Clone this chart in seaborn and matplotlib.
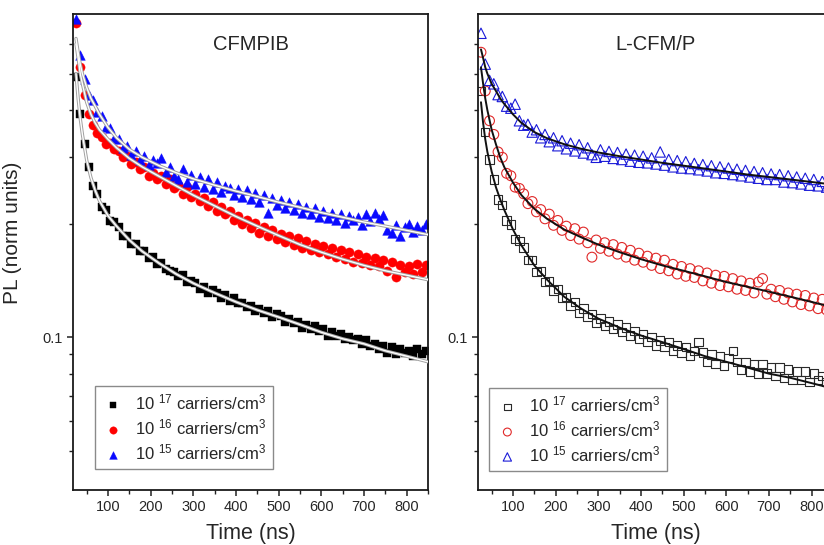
import matplotlib
matplotlib.use("Agg")
import matplotlib.pyplot as plt
import matplotlib.ticker as mticker
import seaborn as sns

# time base of the decays (ns)
time_ns = [25, 35, 45, 55, 65, 75, 85, 95, 105, 115,
           125, 135, 145, 155, 165, 175, 185, 195, 205, 215,
           225, 235, 245, 255, 265, 275, 285, 295, 305, 315,
           325, 335, 345, 355, 365, 375, 385, 395, 405, 415,
           425, 435, 445, 455, 465, 475, 485, 495, 505, 515,
           525, 535, 545, 555, 565, 575, 585, 595, 605, 615,
           625, 635, 645, 655, 665, 675, 685, 695, 705, 715,
           725, 735, 745, 755, 765, 775, 785, 795, 805, 815,
           825, 835, 845]

# CFMPIB (left panel, filled symbols)
cfmpib_1e17 = [0.49, 0.39, 0.325, 0.283, 0.251, 0.240, 0.221, 0.217, 0.203, 0.202,
               0.196, 0.186, 0.186, 0.177, 0.177, 0.169, 0.169, 0.162, 0.163, 0.156,
               0.157, 0.152, 0.150, 0.149, 0.145, 0.146, 0.140, 0.141, 0.139, 0.134,
               0.136, 0.131, 0.133, 0.131, 0.127, 0.129, 0.125, 0.127, 0.123, 0.123,
               0.120, 0.121, 0.117, 0.119, 0.116, 0.117, 0.113, 0.115, 0.114, 0.110,
               0.112, 0.109, 0.110, 0.106, 0.108, 0.105, 0.107, 0.104, 0.105, 0.101,
               0.103, 0.101, 0.102, 0.099, 0.100, 0.098, 0.099, 0.096, 0.098, 0.095,
               0.096, 0.093, 0.095, 0.091, 0.094, 0.090, 0.093, 0.091, 0.092, 0.089,
               0.093, 0.090, 0.092]
cfmpib_1e16 = [0.68, 0.52, 0.44, 0.39, 0.365, 0.348, 0.340, 0.326, 0.327, 0.315,
               0.312, 0.300, 0.302, 0.288, 0.292, 0.280, 0.282, 0.268, 0.273, 0.262,
               0.268, 0.255, 0.262, 0.248, 0.253, 0.240, 0.250, 0.236, 0.240, 0.230,
               0.234, 0.223, 0.229, 0.216, 0.222, 0.212, 0.216, 0.205, 0.209, 0.200,
               0.205, 0.195, 0.201, 0.189, 0.196, 0.186, 0.192, 0.182, 0.188, 0.179,
               0.185, 0.176, 0.183, 0.172, 0.180, 0.170, 0.177, 0.168, 0.174, 0.166,
               0.172, 0.163, 0.170, 0.161, 0.168, 0.158, 0.166, 0.157, 0.163, 0.155,
               0.162, 0.154, 0.160, 0.150, 0.158, 0.144, 0.155, 0.149, 0.154, 0.147,
               0.156, 0.149, 0.155]
cfmpib_1e15 = [0.70, 0.56, 0.485, 0.44, 0.425, 0.395, 0.385, 0.360, 0.358, 0.338,
               0.335, 0.318, 0.322, 0.305, 0.312, 0.296, 0.302, 0.286, 0.296, 0.290,
               0.298, 0.274, 0.283, 0.268, 0.262, 0.279, 0.258, 0.270, 0.255, 0.266,
               0.250, 0.262, 0.247, 0.258, 0.243, 0.252, 0.249, 0.238, 0.247, 0.236,
               0.245, 0.233, 0.241, 0.229, 0.238, 0.214, 0.234, 0.224, 0.231, 0.220,
               0.228, 0.218, 0.226, 0.214, 0.222, 0.212, 0.220, 0.208, 0.216, 0.207,
               0.214, 0.204, 0.212, 0.201, 0.210, 0.205, 0.208, 0.198, 0.212, 0.203,
               0.214, 0.206, 0.211, 0.193, 0.189, 0.198, 0.186, 0.196, 0.199, 0.190,
               0.197, 0.193, 0.199]

# L-CFM/P (right panel, open symbols)
lcfmp_1e17 = [0.45, 0.35, 0.296, 0.262, 0.232, 0.224, 0.204, 0.199, 0.182, 0.180,
              0.173, 0.160, 0.160, 0.149, 0.150, 0.140, 0.141, 0.133, 0.134, 0.127,
              0.128, 0.121, 0.124, 0.116, 0.119, 0.113, 0.115, 0.109, 0.112, 0.107,
              0.110, 0.105, 0.108, 0.103, 0.106, 0.101, 0.104, 0.099, 0.102, 0.097,
              0.100, 0.095, 0.098, 0.094, 0.097, 0.092, 0.095, 0.091, 0.094, 0.089,
              0.092, 0.097, 0.091, 0.086, 0.090, 0.085, 0.089, 0.084, 0.088, 0.092,
              0.086, 0.082, 0.086, 0.081, 0.085, 0.080, 0.085, 0.080, 0.083, 0.079,
              0.083, 0.078, 0.082, 0.077, 0.081, 0.077, 0.081, 0.076, 0.080, 0.077,
              0.079, 0.076, 0.078]
lcfmp_1e16 = [0.57, 0.45, 0.375, 0.345, 0.31, 0.30, 0.272, 0.268, 0.250, 0.248,
              0.240, 0.226, 0.229, 0.215, 0.218, 0.206, 0.212, 0.198, 0.204, 0.192,
              0.197, 0.186, 0.194, 0.182, 0.190, 0.178, 0.163, 0.181, 0.172, 0.178,
              0.169, 0.176, 0.166, 0.173, 0.163, 0.170, 0.160, 0.167, 0.158, 0.164,
              0.155, 0.162, 0.152, 0.160, 0.150, 0.156, 0.147, 0.154, 0.145, 0.152,
              0.144, 0.150, 0.141, 0.148, 0.139, 0.146, 0.137, 0.145, 0.136, 0.143,
              0.134, 0.141, 0.133, 0.139, 0.131, 0.140, 0.143, 0.130, 0.134, 0.128,
              0.133, 0.126, 0.131, 0.124, 0.130, 0.122, 0.129, 0.121, 0.127, 0.119,
              0.126, 0.118, 0.123]
lcfmp_1e15 = [0.64, 0.53, 0.48, 0.47, 0.44, 0.435, 0.41, 0.405, 0.415, 0.375,
              0.365, 0.367, 0.350, 0.355, 0.338, 0.345, 0.330, 0.338, 0.322, 0.332,
              0.316, 0.327, 0.312, 0.324, 0.308, 0.318, 0.305, 0.300, 0.314, 0.302,
              0.311, 0.298, 0.309, 0.296, 0.306, 0.293, 0.304, 0.291, 0.302, 0.290,
              0.299, 0.288, 0.310, 0.286, 0.296, 0.283, 0.294, 0.281, 0.292, 0.280,
              0.289, 0.278, 0.287, 0.276, 0.285, 0.273, 0.283, 0.272, 0.281, 0.270,
              0.279, 0.268, 0.277, 0.266, 0.275, 0.264, 0.273, 0.262, 0.271, 0.262,
              0.270, 0.258, 0.268, 0.257, 0.266, 0.255, 0.264, 0.253, 0.262, 0.252,
              0.259, 0.250, 0.256]

# fitted curves
fit_time_ns = [25, 30, 35, 40, 50, 60, 70, 80, 100, 120, 150, 180, 220,
               260, 300, 350, 400, 450, 500, 550, 600, 650, 700, 750, 800, 850]
fit_cfmpib_1e17 = [0.50, 0.43, 0.38, 0.345, 0.295, 0.265, 0.245, 0.23, 0.21, 0.197, 0.181, 0.169, 0.157,
                   0.147, 0.139, 0.131, 0.124, 0.118, 0.113, 0.108, 0.103, 0.099, 0.096, 0.092, 0.089, 0.086]
fit_cfmpib_1e16 = [0.60, 0.55, 0.50, 0.47, 0.42, 0.39, 0.37, 0.355, 0.335, 0.318, 0.298, 0.283, 0.267,
                   0.252, 0.238, 0.223, 0.209, 0.197, 0.186, 0.176, 0.168, 0.161, 0.155, 0.150, 0.146, 0.142]
fit_cfmpib_1e15 = [0.62, 0.57, 0.53, 0.50, 0.46, 0.43, 0.41, 0.39, 0.36, 0.338, 0.315, 0.30, 0.285,
                   0.273, 0.263, 0.253, 0.244, 0.236, 0.228, 0.221, 0.214, 0.208, 0.202, 0.197, 0.192, 0.187]
fit_lcfmp_1e17 = [0.42, 0.37, 0.335, 0.31, 0.275, 0.25, 0.232, 0.217, 0.193, 0.175, 0.155, 0.142, 0.128,
                  0.119, 0.112, 0.106, 0.101, 0.097, 0.093, 0.089, 0.086, 0.083, 0.080, 0.078, 0.0755, 0.073]
fit_lcfmp_1e16 = [0.52, 0.47, 0.43, 0.40, 0.355, 0.325, 0.30, 0.282, 0.257, 0.238, 0.219, 0.206, 0.193,
                  0.184, 0.176, 0.168, 0.161, 0.155, 0.150, 0.145, 0.140, 0.136, 0.132, 0.128, 0.124, 0.120]
fit_lcfmp_1e15 = [0.58, 0.55, 0.52, 0.50, 0.47, 0.45, 0.43, 0.415, 0.39, 0.37, 0.35, 0.337, 0.325,
                  0.316, 0.309, 0.302, 0.296, 0.29, 0.285, 0.280, 0.275, 0.270, 0.266, 0.262, 0.258, 0.254]

labels = [r"10 $^{17}$ carriers/cm$^{3}$", r"10 $^{16}$ carriers/cm$^{3}$", r"10 $^{15}$ carriers/cm$^{3}$"]
colors_left = ["#000000", "#ff0000", "#0a0aff"]
colors_right = ["#2a2a2a", "#e02828", "#1a1ad8"]
markers = ["s", "o", "^"]

sns.set_style("ticks")
plt.rcParams["font.family"] = ["Liberation Sans", "DejaVu Sans"]
plt.rcParams["mathtext.fontset"] = "custom"
plt.rcParams["mathtext.rm"] = "Liberation Sans"
plt.rcParams["mathtext.it"] = "Liberation Sans:italic"
plt.rcParams["mathtext.bf"] = "Liberation Sans:bold"

fig = plt.figure(figsize=(8.24, 5.45), dpi=100)
ax1 = fig.add_axes([0.0886, 0.1009, 0.4308, 0.8734])
ax2 = fig.add_axes([0.5801, 0.1009, 0.4308, 0.8734])


def style_axis(ax):
    ax.set_yscale("log")
    ax.set_xlim(18, 850)
    ax.set_ylim(0.0393, 0.72)
    ax.xaxis.set_major_locator(mticker.MultipleLocator(100))
    ax.xaxis.set_minor_locator(mticker.MultipleLocator(50))
    ax.yaxis.set_major_locator(mticker.FixedLocator([0.1]))
    ax.yaxis.set_major_formatter(mticker.FixedFormatter(["0.1"]))
    ax.yaxis.set_minor_locator(mticker.FixedLocator([0.05, 0.06, 0.07, 0.08, 0.09, 0.2, 0.3, 0.4, 0.5, 0.6]))
    ax.yaxis.set_minor_formatter(mticker.NullFormatter())
    ax.tick_params(axis="both", which="major", direction="out", length=4.5, width=1.1,
                   labelsize=10.5, color="#222222", pad=3)
    ax.tick_params(axis="both", which="minor", direction="out", length=3, width=1.0, color="#222222")
    ax.tick_params(top=False, right=False, which="both")
    for sp in ax.spines.values():
        sp.set_linewidth(1.3)
        sp.set_color("#1a1a1a")
    ax.set_xlabel("Time (ns)", fontsize=15.5, labelpad=6)
    ax.set_ylabel("")


# left panel: filled symbols, white fit lines
left_data = [cfmpib_1e17, cfmpib_1e16, cfmpib_1e15]
left_fits = [fit_cfmpib_1e17, fit_cfmpib_1e16, fit_cfmpib_1e15]
left_sizes = [32, 44, 48]
for ys, c, m, s, lab in zip(left_data, colors_left, markers, left_sizes, labels):
    sns.scatterplot(x=time_ns, y=ys, ax=ax1, marker=m, color=c, s=s, edgecolor=c,
                    linewidth=0.3, label=lab, zorder=2)
for fy in left_fits:
    sns.lineplot(x=fit_time_ns, y=fy, ax=ax1, color="#a0a0a0", lw=2.4, zorder=3, legend=False)
    sns.lineplot(x=fit_time_ns, y=fy, ax=ax1, color="white", lw=1.0, zorder=4, legend=False)

# right panel: open symbols, black fit lines
right_data = [lcfmp_1e17, lcfmp_1e16, lcfmp_1e15]
right_fits = [fit_lcfmp_1e17, fit_lcfmp_1e16, fit_lcfmp_1e15]
right_sizes = [36, 50, 56]
for ys, c, m, s, lab in zip(right_data, colors_right, markers, right_sizes, labels):
    sns.scatterplot(x=time_ns, y=ys, ax=ax2, marker=m, color=c, s=s, facecolor="none",
                    edgecolor=c, linewidth=0.8, label=lab, zorder=2)
for fy in right_fits:
    sns.lineplot(x=fit_time_ns, y=fy, ax=ax2, color="#111111", lw=1.4, zorder=4, legend=False)

for ax in (ax1, ax2):
    style_axis(ax)

ax1.set_ylabel("PL (norm units)", fontsize=15)
ax1.yaxis.set_label_coords(-0.145, 0.54)

ax1.text(0.5, 0.935, "CFMPIB", transform=ax1.transAxes, ha="center", va="center", fontsize=14.5)
ax2.text(0.5, 0.935, "L-CFM/P", transform=ax2.transAxes, ha="center", va="center", fontsize=14.5)

for ax, anchor in ((ax1, (0.062, 0.044)), (ax2, (0.031, 0.040))):
    leg = ax.legend(loc="lower left", bbox_to_anchor=anchor, borderaxespad=0, fontsize=12,
                    frameon=True, fancybox=False, edgecolor="#8a8a8a", framealpha=1,
                    labelspacing=0.3, borderpad=0.4, handletextpad=0.6, handlelength=1.4,
                    markerscale=0.8)
    leg.get_frame().set_linewidth(1.0)

fig.savefig("out.png", dpi=100, facecolor="white")
